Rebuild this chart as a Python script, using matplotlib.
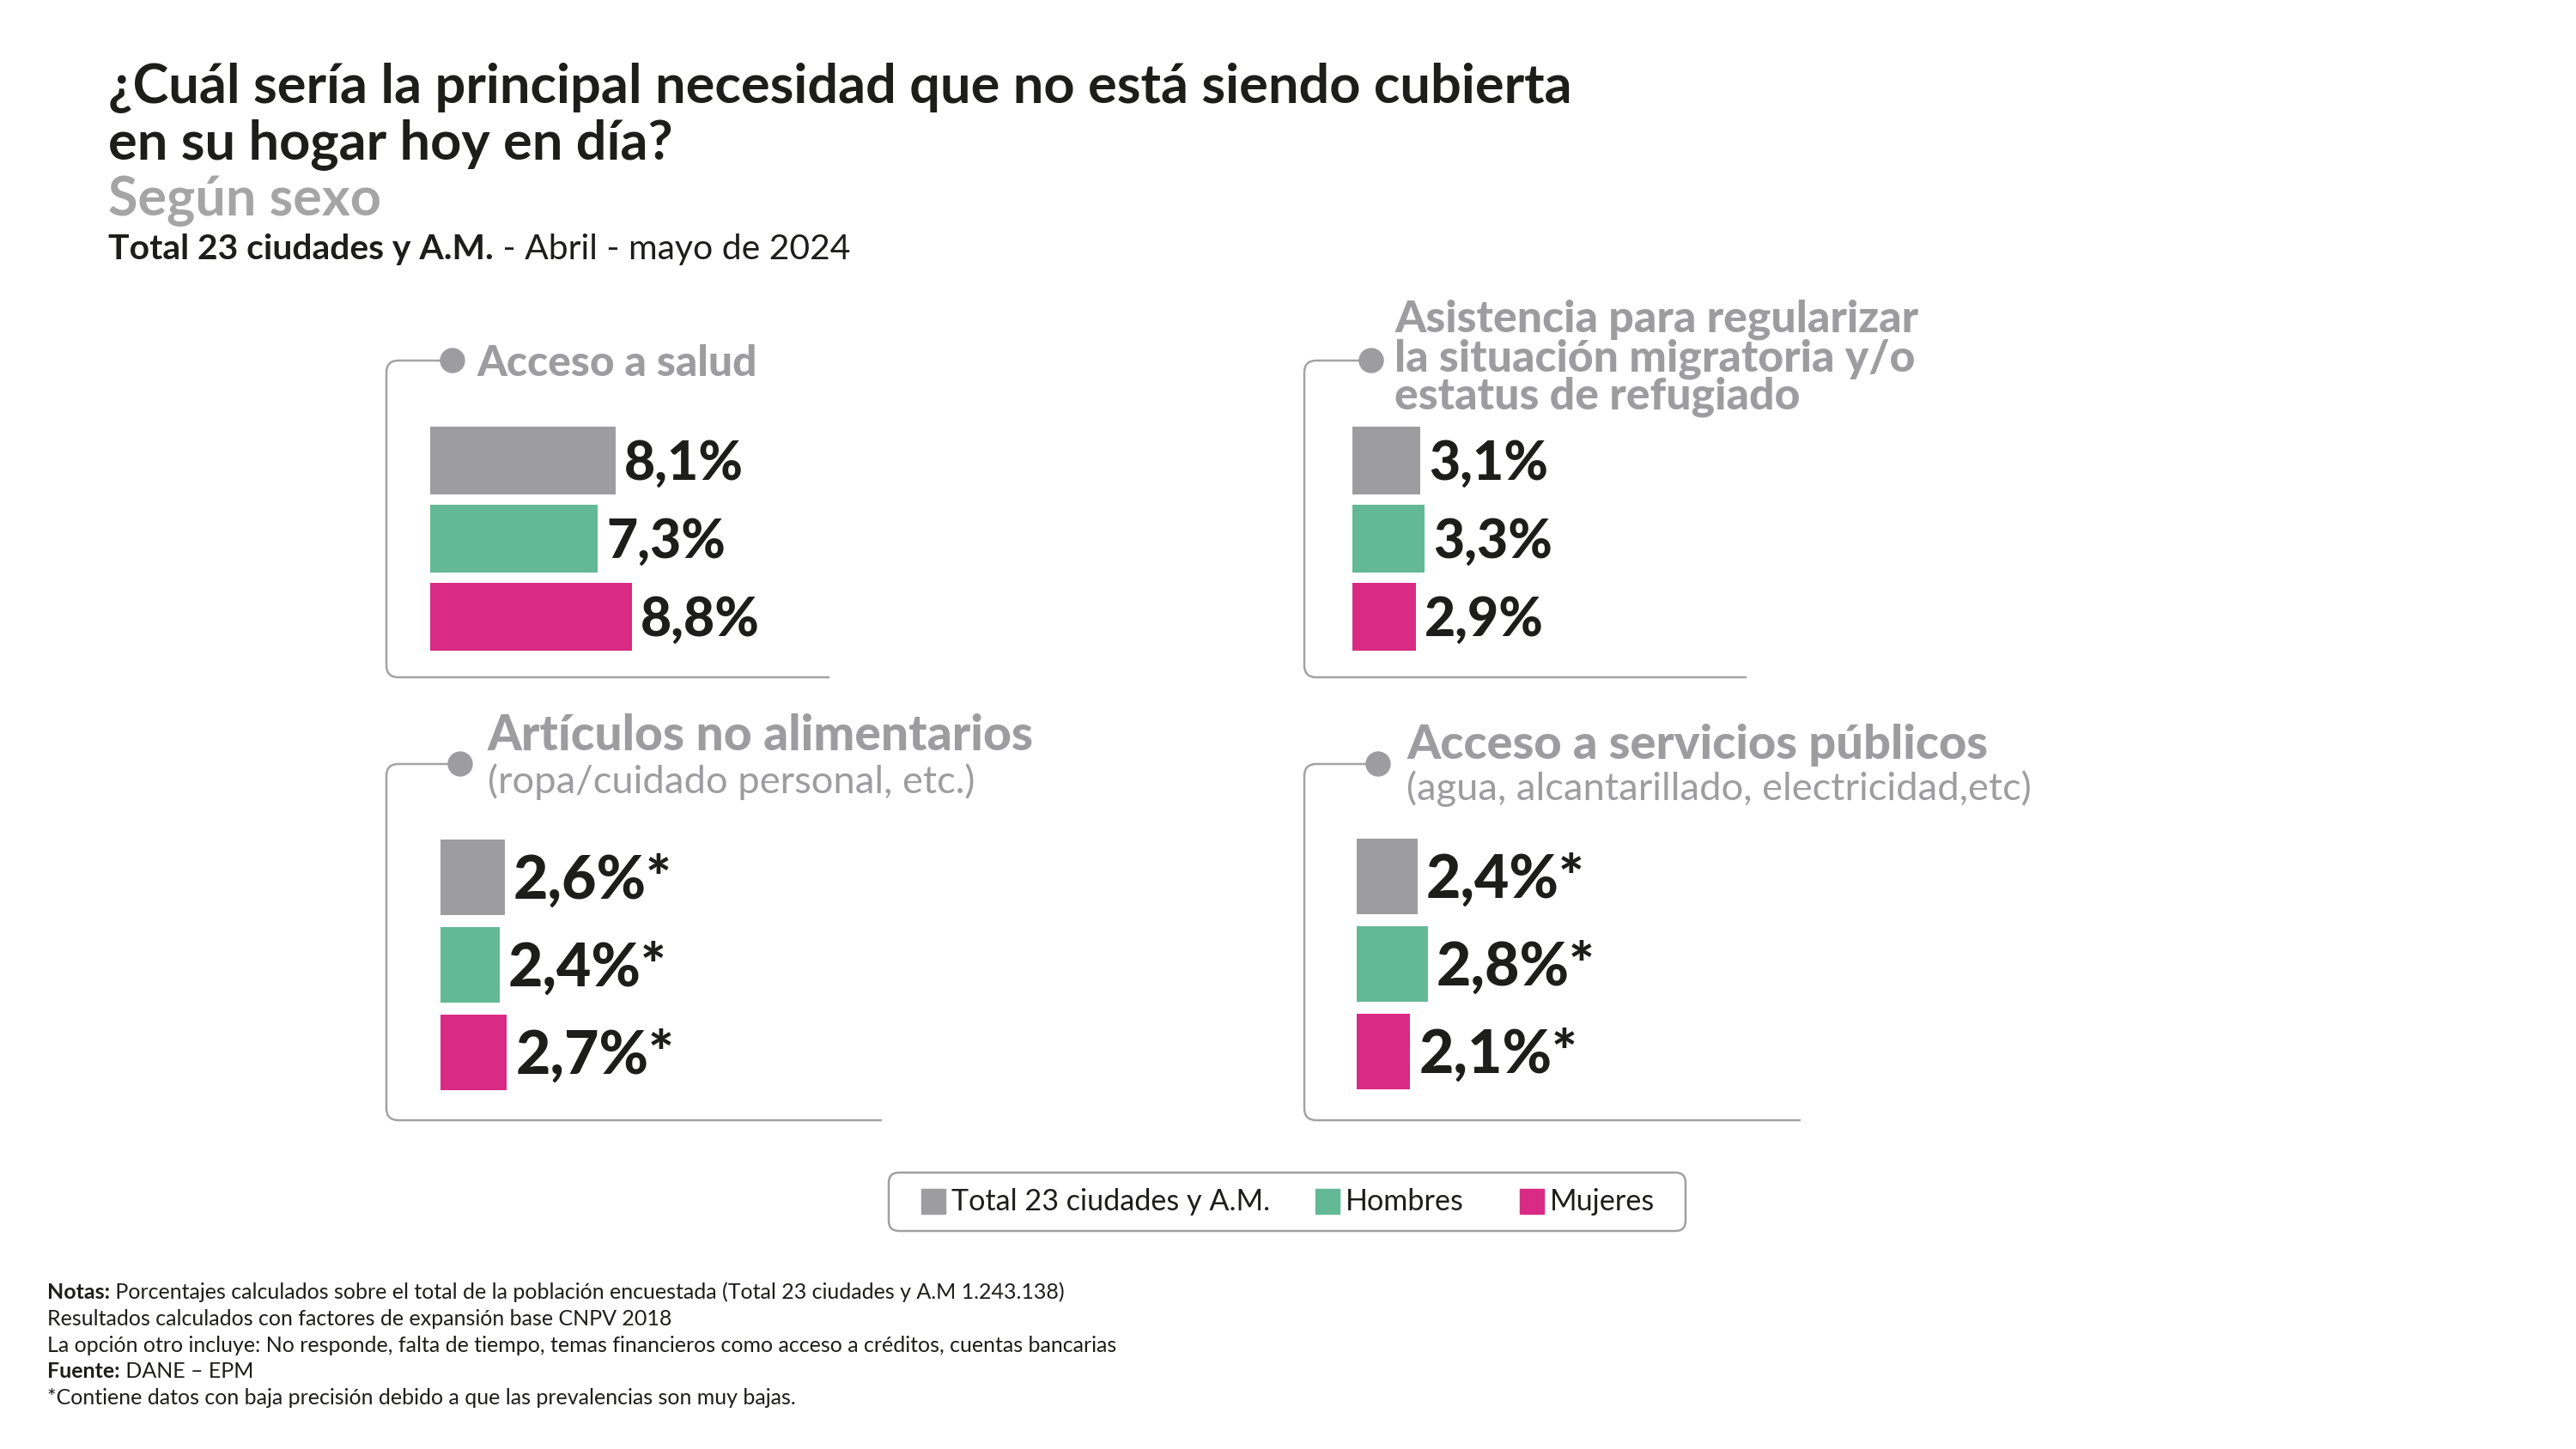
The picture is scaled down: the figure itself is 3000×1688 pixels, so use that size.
import matplotlib
matplotlib.use("Agg")
import matplotlib.pyplot as plt
from matplotlib.patches import FancyBboxPatch, Circle, PathPatch, Rectangle
from matplotlib.path import Path

# ---------------- data ----------------
series = ["Total 23 ciudades y A.M.", "Hombres", "Mujeres"]
series_colors = ["#9d9d9f", "#63b995", "#d92a85"]

panel_titles = [
    ["Acceso a salud"],
    ["Asistencia para regularizar", "la situación migratoria y/o", "estatus de refugiado"],
    ["Artículos no alimentarios"],
    ["Acceso a servicios públicos"],
]
panel_subtitles = ["", "", "(ropa/cuidado personal, etc.)", "(agua, alcantarillado, electricidad,etc)"]

acceso_salud = [8.1, 7.3, 8.8]
asistencia_migratoria = [3.1, 3.3, 2.9]
articulos_no_alimentarios = [2.6, 2.4, 2.7]
servicios_publicos = [2.4, 2.8, 2.1]
low_precision = [False, False, True, True]

title_lines = ["¿Cuál sería la principal necesidad que no está siendo cubierta",
               "en su hogar hoy en día?"]
subtitle = "Según sexo"
scope_bold = "Total 23 ciudades y A.M."
scope_regular = " - Abril - mayo de 2024"

notes = [
    ("Notas:", " Porcentajes calculados sobre el total de la población encuestada (Total 23 ciudades y A.M 1.243.138)"),
    ("", "Resultados calculados con factores de expansión base CNPV 2018"),
    ("", "La opción otro incluye: No responde, falta de tiempo, temas financieros como acceso a créditos, cuentas bancarias"),
    ("Fuente:", " DANE – EPM"),
    ("", "*Contiene datos con baja precisión debido a que las prevalencias son muy bajas."),
]

# ---------------- figure ----------------
W, H, DPI = 3000, 1688, 100
plt.rcParams["font.family"] = ["Lato", "DejaVu Sans"]
fig = plt.figure(figsize=(W / DPI, H / DPI), dpi=DPI)
fig.patch.set_facecolor("white")
ov = fig.add_axes([0, 0, 1, 1])
ov.set_xlim(0, W)
ov.set_ylim(H, 0)
ov.axis("off")
renderer = fig.canvas.get_renderer()

BLACK = "#1d1d1b"
GRAY = "#9d9d9f"
LINE = "#a3a3a3"


def fit_size(s, target_w, **kw):
    t = ov.text(0, 0, s, fontsize=20, **kw)
    w = t.get_window_extent(renderer).width
    t.remove()
    return 20 * target_w / w


def put(x, y, s, size, **kw):
    return ov.text(x, y, s, fontsize=size, va="baseline", ha="left", **kw)


def right_of(t):
    return t.get_window_extent(renderer).x1


# ---------------- header ----------------
ts = fit_size(title_lines[0], 1705, fontweight="bold")
put(126, 119, title_lines[0], ts, fontweight="bold", color=BLACK)
put(126, 185, title_lines[1], ts, fontweight="bold", color=BLACK)
ss = fit_size(subtitle, 318, fontweight="bold")
put(126, 251, subtitle, ss, fontweight="bold", color="#a5a5a5")
sc = fit_size(scope_bold, 450, fontweight="bold")
tb = put(126, 302, scope_bold, sc, fontweight="bold", color=BLACK)
put(right_of(tb), 302, scope_regular, sc, color=BLACK)

# ---------------- panels ----------------
panel_values = [acceso_salud, asistencia_migratoria, articulos_no_alimentarios, servicios_publicos]
panels = [
    dict(vx=450, ty=420, by=789, dx=527, bx=966, tx=555, tys=[438], title_w=327,
         bl=501, ppu=26.7, top=497, pitch=91, bh=79),
    dict(vx=1519, ty=420, by=789, dx=1597, bx=2034, tx=1624, tys=[387, 432, 477], title_w=611,
         bl=1575, ppu=25.5, top=497, pitch=91, bh=79),
    dict(vx=450, ty=890, by=1305, dx=536, bx=1027, tx=568, tys=[874], title_w=639,
         sub_y=924, sub_w=561, bl=513, ppu=28.7, top=978, pitch=102, bh=88),
    dict(vx=1519, ty=890, by=1305, dx=1605, bx=2097, tx=1638, tys=[884], title_w=679,
         sub_y=932, sub_w=729, bl=1580, ppu=29.6, top=977, pitch=102, bh=88),
]

sub_size = fit_size(panel_subtitles[3], panels[3]["sub_w"])
lab_top = fit_size("8,1%", 139, fontweight="black")
lab_bot = fit_size("2,6%*", 185, fontweight="black")

for i, (p, vals) in enumerate(zip(panels, panel_values)):
    r = 14
    verts = [(p["dx"], p["ty"]), (p["vx"] + r, p["ty"]), (p["vx"], p["ty"]), (p["vx"], p["ty"] + r),
             (p["vx"], p["by"] - r), (p["vx"], p["by"]), (p["vx"] + r, p["by"]), (p["bx"], p["by"])]
    codes = [Path.MOVETO, Path.LINETO, Path.CURVE3, Path.CURVE3, Path.LINETO, Path.CURVE3,
             Path.CURVE3, Path.LINETO]
    ov.add_patch(PathPatch(Path(verts, codes), fill=False, edgecolor=LINE, lw=1.8))
    ov.add_patch(Circle((p["dx"], p["ty"]), 14, color=GRAY, zorder=3))

    psize = fit_size(panel_titles[i][0], p["title_w"], fontweight="black")
    for line, y in zip(panel_titles[i], p["tys"]):
        put(p["tx"], y, line, psize, fontweight="black", color=GRAY)
    if panel_subtitles[i]:
        put(p["tx"], p["sub_y"], panel_subtitles[i], sub_size, color=GRAY)

    # bar axes
    h = p["bh"] / p["pitch"]
    xmax = 12
    x0 = p["bl"]
    x1 = x0 + p["ppu"] * xmax
    y0 = p["top"]
    y1 = y0 + (2 + h) * p["pitch"]
    ax = fig.add_axes([x0 / W, 1 - y1 / H, (x1 - x0) / W, (y1 - y0) / H])
    ax.set_xlim(0, xmax)
    ax.set_ylim(2 + h / 2, -h / 2)
    ax.axis("off")
    ax.patch.set_alpha(0)
    ypos = list(range(len(vals)))
    ax.barh(ypos, vals, height=h, color=series_colors, left=0)
    size = lab_top if i < 2 else lab_bot
    cap = size * DPI / 72 * 0.72
    for yv, v in zip(ypos, vals):
        s = f"{v:.1f}".replace(".", ",") + "%" + ("*" if low_precision[i] else "")
        ax.annotate(s, (v, yv), xytext=(10, -cap / 2), textcoords="offset pixels",
                    ha="left", va="baseline", fontsize=size, fontweight="black", color=BLACK)

# ---------------- legend ----------------
ov.add_patch(FancyBboxPatch((1035, 1366), 928, 68, boxstyle="round,pad=0,rounding_size=12",
                            fill=False, edgecolor="#a0a0a0", lw=1.8))
leg_size = fit_size(series[0], 371)
leg_x = [1073, 1532, 1770]
for name, col, lx in zip(series, series_colors, leg_x):
    ov.add_patch(Rectangle((lx, 1385), 28, 29, color=col))
    ov.text(lx + 35, 1400, name, fontsize=leg_size, va="center", ha="left", color=BLACK)

# ---------------- notes ----------------
ns = fit_size(notes[0][0] + notes[0][1], 1187)
for k, (b, rtxt) in enumerate(notes):
    y = 1513 + k * 30.8
    x = 55
    if b:
        t = put(x, y, b, ns, fontweight="bold", color=BLACK)
        x = right_of(t)
    put(x, y, rtxt, ns, color=BLACK)

fig.savefig("out.png", dpi=DPI, facecolor="white")
